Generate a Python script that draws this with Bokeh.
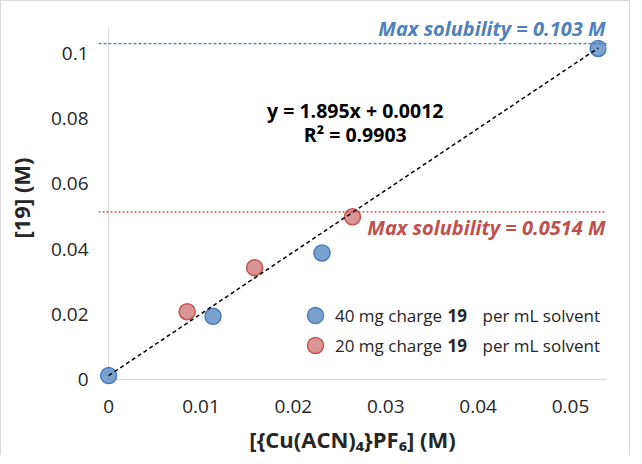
from bokeh.plotting import figure
from bokeh.models import (Range1d, FixedTicker, NumeralTickFormatter, Label, Span,
                          Legend, LegendItem)
from bokeh.embed import file_html
from bokeh.resources import INLINE

# ---- data ----
x40 = [0.0, 0.0113, 0.0231, 0.0530]
y40 = [0.0012, 0.0194, 0.0388, 0.1015]
x20 = [0.0085, 0.0158, 0.0264]
y20 = [0.0208, 0.0343, 0.0499]
slope = 1.895
intercept = 0.0012
r_squared = 0.9903
max_sol_40 = 0.103
max_sol_20 = 0.0514
x_ticks = [0, 0.01, 0.02, 0.03, 0.04, 0.05]
y_ticks = [0, 0.02, 0.04, 0.06, 0.08, 0.1]
label_40 = ["40 mg charge", "19", "per mL solvent"]
label_20 = ["20 mg charge", "19", "per mL solvent"]
x_title = "[{Cu(ACN)\u2084}PF\u2086] (M)"
y_title = "[19] (M)"

FONT = "Open Sans"
TXT = "#262626"
BLUE = "#4F81BD"
RED = "#C0504D"

x_start, x_end = -0.0011, 0.0539
y_start, y_end = -0.00183, 0.11315
y_axis_top = 0.108

p = figure(width=630, height=455, output_backend="svg", toolbar_location=None,
           x_range=Range1d(x_start, x_end), y_range=Range1d(y_start, y_end),
           min_border_left=97, min_border_right=25, min_border_top=9,
           min_border_bottom=70)
p.styles = {"border": "1px solid #d9d9d9", "border-bottom": "none"}
p.outline_line_color = None
p.grid.grid_line_color = None
p.background_fill_color = "white"

for ax in (p.xaxis[0], p.yaxis[0]):
    ax.axis_line_color = None
    ax.major_tick_line_color = None
    ax.minor_tick_line_color = None
    ax.major_tick_out = 0
    ax.major_tick_in = 0
    ax.minor_tick_out = 0
    ax.major_label_text_font = FONT
    ax.major_label_text_font_size = "19px"
    ax.major_label_text_color = TXT
    ax.axis_label_text_font = FONT
    ax.axis_label_text_font_size = "22px"
    ax.axis_label_text_font_style = "bold"
    ax.axis_label_text_color = TXT
    ax.formatter = NumeralTickFormatter(format="0.[00]")

p.xaxis.ticker = FixedTicker(ticks=x_ticks)
p.yaxis.ticker = FixedTicker(ticks=y_ticks)
p.xaxis.major_label_standoff = 14
p.yaxis.major_label_standoff = 10
p.xaxis.axis_label = x_title
p.yaxis.axis_label = y_title
p.xaxis.axis_label_standoff = 8
p.yaxis.axis_label_standoff = 12

# axis lines at zero
p.line([0, x_end], [0, 0], line_color="#d9d9d9", line_width=1)
p.line([0, 0], [0, y_axis_top], line_color="#d9d9d9", line_width=1)

# max solubility lines
p.add_layout(Span(location=max_sol_40, dimension="width", line_color="#3F7FD0",
                  line_dash="3 2", line_width=1.2))
p.add_layout(Span(location=max_sol_20, dimension="width", line_color="#E03A3A",
                  line_dash="2 2", line_width=1.2))

p.add_layout(Label(x=x_end, y=max_sol_40, text=f"Max solubility = {max_sol_40} M",
                   text_align="right", text_baseline="bottom", y_offset=2, x_offset=-1,
                   text_font=FONT, text_font_size="20px", text_font_style="bold italic",
                   text_color=BLUE))
p.add_layout(Label(x=x_end, y=max_sol_20, text=f"Max solubility = {max_sol_20} M",
                   text_align="right", text_baseline="top", y_offset=-2, x_offset=-1,
                   text_font=FONT, text_font_size="20px", text_font_style="bold italic",
                   text_color=RED))

# points
r40 = p.scatter(x40, y40, size=16, fill_color=BLUE, fill_alpha=0.75,
                line_color="#4A7CC0", line_width=1.5)
r20 = p.scatter(x20, y20, size=16, fill_color=RED, fill_alpha=0.6,
                line_color="#C8504D", line_width=1.5)

# trendline
all_x = x40 + x20
tx = [min(all_x), max(all_x)]
ty = [slope * v + intercept for v in tx]
p.line(tx, ty, line_color="black", line_dash="4 3", line_width=1.5)

# equation
eq_x = 0.0267
p.add_layout(Label(x=eq_x, y=0.0826, text=f"y = {slope}x + {intercept}",
                   text_align="center", text_baseline="middle", text_font=FONT,
                   text_font_size="19.5px", text_font_style="bold", text_color="black"))
p.add_layout(Label(x=eq_x, y=0.0752, text=f"R\u00b2 = {r_squared}",
                   text_align="center", text_baseline="middle", text_font=FONT,
                   text_font_size="19.5px", text_font_style="bold", text_color="black"))

# legend (one Legend per row; marker size = 0.4 * glyph box)
for rend, lab, loc in ((r40, label_40, (197, 50)), (r20, label_20, (197, 20))):
    lg = Legend(items=[LegendItem(label=lab[0], renderers=[rend])],
                location=loc, padding=0, margin=0, spacing=0,
                glyph_width=40, glyph_height=40, label_height=20, label_standoff=0,
                border_line_color=None, background_fill_alpha=0,
                label_text_font=FONT, label_text_font_size="17px",
                label_text_color=TXT)
    p.add_layout(lg, "center")

for lab, ys in ((label_40, 70), (label_20, 40)):
    p.add_layout(Label(x=349, y=ys, x_units="screen", y_units="screen", text=lab[1],
                       text_baseline="middle", text_font=FONT, text_font_size="17px",
                       text_font_style="bold", text_color=TXT))
    p.add_layout(Label(x=384, y=ys, x_units="screen", y_units="screen", text=lab[2],
                       text_baseline="middle", text_font=FONT, text_font_size="17px",
                       text_color=TXT))

open("out.html", "w").write(file_html(p, INLINE))
